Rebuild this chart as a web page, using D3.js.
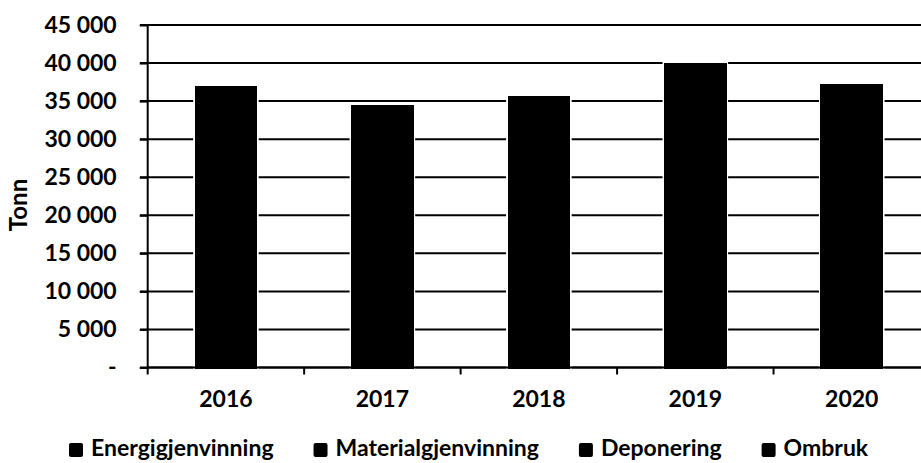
<!DOCTYPE html>
<html>
<head>
<meta charset="utf-8">
<script src="https://cdn.jsdelivr.net/npm/d3@7"></script>
<style>
  html, body { margin: 0; padding: 0; background: #fff; }
  svg { display: block; }
  text { font-family: Lato, "Open Sans", sans-serif; font-weight: bold; fill: #000; }
</style>
</head>
<body>
<svg id="chart" width="921" height="463"></svg>
<script>
const years = ["2016", "2017", "2018", "2019", "2020"];
const seriesNames = ["Energigjenvinning", "Materialgjenvinning", "Deponering", "Ombruk"];
const energigjenvinning = [22300, 21500, 22000, 24500, 23000];
const materialgjenvinning = [10000, 9500, 10000, 11500, 10500];
const deponering = [4000, 3000, 3200, 3500, 3200];
const ombruk = [700, 500, 500, 500, 500];
const yTicks = [0, 5000, 10000, 15000, 20000, 25000, 30000, 35000, 40000, 45000];
const colors = ["#000000", "#000000", "#000000", "#000000"];

const rows = years.map((yr, i) => ({
  year: yr,
  Energigjenvinning: energigjenvinning[i],
  Materialgjenvinning: materialgjenvinning[i],
  Deponering: deponering[i],
  Ombruk: ombruk[i]
}));

const svg = d3.select("#chart");
const plotLeft = 147.7, plotRight = 930, plotTop = 25, plotBottom = 367.5;

const x = d3.scaleBand().domain(years).range([plotLeft, plotRight]).paddingInner(0.6).paddingOuter(0.3);
const y = d3.scaleLinear().domain([0, 45000]).range([plotBottom, plotTop]);

const loc = d3.formatLocale({ decimal: ",", thousands: " ", grouping: [3], currency: ["", ""] });
const fmt = loc.format(",d");
const tickFmt = d => d === 0 ? "-" : fmt(d);

// gridlines
svg.append("g").selectAll("line").data(yTicks).join("line")
  .attr("x1", 140).attr("x2", 921)
  .attr("y1", d => y(d)).attr("y2", d => y(d))
  .attr("stroke", "#000").attr("stroke-width", 2);

// bars
const stacked = d3.stack().keys(seriesNames)(rows);
const topLayer = stacked[stacked.length - 1];
// thin white halo around each full bar
svg.append("g").selectAll("rect").data(topLayer).join("rect")
  .attr("x", d => x(d.data.year))
  .attr("width", x.bandwidth())
  .attr("y", d => y(d[1]))
  .attr("height", d => y(0) - y(d[1]))
  .attr("fill", "#fff").attr("stroke", "#fff").attr("stroke-width", 3);
svg.append("g").attr("shape-rendering", "crispEdges").selectAll("g").data(stacked).join("g")
  .attr("fill", (d, i) => colors[i])
  .selectAll("rect").data(d => d).join("rect")
  .attr("x", d => x(d.data.year))
  .attr("width", x.bandwidth())
  .attr("y", d => y(d[1]))
  .attr("height", d => y(d[0]) - y(d[1]) + 1);

// y axis
const yAxis = d3.axisLeft(y).tickValues(yTicks).tickFormat(tickFmt).tickSize(8).tickPadding(23);
const ga = svg.append("g").attr("transform", `translate(${plotLeft},0)`).call(yAxis);
ga.select(".domain").remove();
ga.selectAll(".tick line").attr("stroke", "#000").attr("stroke-width", 2);
ga.selectAll(".tick text").attr("font-size", 23).attr("font-family", "Lato, sans-serif")
  .attr("font-weight", "bold").attr("fill", "#000");
svg.append("line").attr("x1", plotLeft).attr("x2", plotLeft).attr("y1", plotTop).attr("y2", plotBottom + 7)
  .attr("stroke", "#000").attr("stroke-width", 2);

// x baseline and category ticks
svg.append("line").attr("x1", plotLeft).attr("x2", 921).attr("y1", plotBottom).attr("y2", plotBottom)
  .attr("stroke", "#000").attr("stroke-width", 2);
svg.append("g").selectAll("line").data(years.slice(1)).join("line")
  .attr("x1", d => x(d) - (x.step() - x.bandwidth()) / 2)
  .attr("x2", d => x(d) - (x.step() - x.bandwidth()) / 2)
  .attr("y1", plotBottom).attr("y2", plotBottom + 7)
  .attr("stroke", "#000").attr("stroke-width", 2);

// year labels
svg.append("g").selectAll("text").data(years).join("text")
  .attr("x", d => x(d) + x.bandwidth() / 2)
  .attr("y", 407)
  .attr("text-anchor", "middle")
  .attr("font-size", 23)
  .text(d => d);

// y title
svg.append("text")
  .attr("transform", "translate(27,205) rotate(-90)")
  .attr("text-anchor", "middle")
  .attr("font-size", 24)
  .text("Tonn");

// legend
const lg = svg.append("g");
let lx = 69;
seriesNames.forEach((name, i) => {
  lg.append("rect").attr("x", lx).attr("y", 443).attr("width", 14).attr("height", 14)
    .attr("rx", 2).attr("fill", colors[i]);
  const t = lg.append("text").attr("x", lx + 22).attr("y", 456).attr("font-size", 23).text(name);
  lx = lx + 22 + t.node().getComputedTextLength() + 40;
});
</script>
</body>
</html>
